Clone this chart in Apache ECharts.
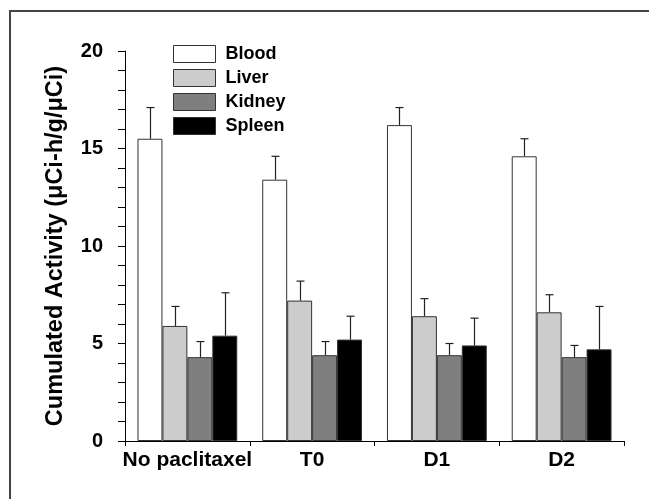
<!DOCTYPE html>
<html>
<head>
<meta charset="utf-8">
<script src="https://cdn.jsdelivr.net/npm/echarts@6/dist/echarts.min.js"></script>
<style>
html,body{margin:0;padding:0;background:#fff;}
#c{width:649px;height:499px;}
</style>
</head>
<body>
<div id="c"></div>
<script>
var categories = ['No paclitaxel', 'T0', 'D1', 'D2'];
var seriesNames = ['Blood', 'Liver', 'Kidney', 'Spleen'];
var blood = [15.5, 13.4, 16.2, 14.6];
var bloodErr = [1.6, 1.2, 0.9, 0.9];
var liver = [5.9, 7.2, 6.4, 6.6];
var liverErr = [1.0, 1.0, 0.9, 0.9];
var kidney = [4.3, 4.4, 4.4, 4.3];
var kidneyErr = [0.8, 0.7, 0.6, 0.6];
var spleen = [5.4, 5.2, 4.9, 4.7];
var spleenErr = [2.2, 1.2, 1.4, 2.2];
var yTicks = [0, 5, 10, 15, 20];

var values = [blood, liver, kidney, spleen];
var errs = [bloodErr, liverErr, kidneyErr, spleenErr];
var colors = ['#ffffff', '#cccccc', '#7f7f7f', '#000000'];
var FONT = '"Liberation Sans", Arial, sans-serif';
var groupFrac = 0.8;

var chart = echarts.init(document.getElementById('c'), null, {renderer: 'canvas'});

var series = [];
seriesNames.forEach(function (name, k) {
  series.push({
    name: name,
    type: 'bar',
    data: values[k],
    barGap: '0%',
    barCategoryGap: '20%',
    itemStyle: {color: colors[k], borderColor: '#333', borderWidth: 1},
    emphasis: {disabled: true},
    z: 2
  });
});
seriesNames.forEach(function (name, k) {
  series.push({
    type: 'custom',
    data: values[k].map(function (v, i) { return [i, v, errs[k][i]]; }),
    z: 5,
    silent: true,
    renderItem: function (params, api) {
      var band = api.size([1, 0])[0];
      var bw = band * groupFrac / seriesNames.length;
      var off = (k - (seriesNames.length - 1) / 2) * bw;
      var base = api.coord([api.value(0), api.value(1)]);
      var top = api.coord([api.value(0), api.value(1) + api.value(2)]);
      var x = Math.round(base[0] + off) + 0.5;
      var cap = 4;
      return {
        type: 'group',
        children: [
          {type: 'line', shape: {x1: x, y1: base[1], x2: x, y2: top[1]}, style: {stroke: '#222', lineWidth: 1.2}},
          {type: 'line', shape: {x1: x - cap, y1: top[1], x2: x + cap, y2: top[1]}, style: {stroke: '#222', lineWidth: 1.2}}
        ]
      };
    }
  });
});

chart.setOption({
  animation: false,
  backgroundColor: '#fff',
  textStyle: {fontFamily: FONT},
  graphic: [{
    type: 'polyline',
    shape: {points: [[10, 700], [10, 11], [900, 11]]},
    style: {fill: 'none', stroke: '#444', lineWidth: 2},
    z: 100,
    silent: true
  }],
  grid: {left: 125, right: 25, top: 51, bottom: 58},
  legend: {
    orient: 'vertical',
    left: 173,
    top: 45,
    padding: 0,
    itemWidth: 42,
    itemHeight: 17,
    itemGap: 6,
    icon: 'rect',
    data: seriesNames,
    selectedMode: false,
    itemStyle: {borderColor: '#333', borderWidth: 1},
    textStyle: {fontFamily: FONT, fontSize: 18, fontWeight: 'bold', color: '#000', lineHeight: 17, padding: [0, 0, 0, 5]}
  },
  xAxis: {
    type: 'category',
    data: categories,
    axisLine: {lineStyle: {color: '#000', width: 1}},
    axisTick: {show: true, length: 5, lineStyle: {color: '#000'}},
    axisLabel: {interval: 0, fontFamily: FONT, fontSize: 21, fontWeight: 'bold', color: '#000', margin: 9}
  },
  yAxis: {
    type: 'value',
    min: yTicks[0],
    max: yTicks[yTicks.length - 1],
    interval: yTicks[1] - yTicks[0],
    name: 'Cumulated Activity (\u03bcCi-h/g/\u03bcCi)',
    nameLocation: 'middle',
    nameGap: 57,
    nameTextStyle: {fontFamily: FONT, fontSize: 23.5, fontWeight: 'bold', color: '#000'},
    axisLine: {show: true, lineStyle: {color: '#000', width: 1}},
    axisTick: {show: true, length: 7, lineStyle: {color: '#000'}},
    minorTick: {show: true, splitNumber: 5, length: 7, lineStyle: {color: '#000'}},
    splitLine: {show: false},
    minorSplitLine: {show: false},
    axisLabel: {fontFamily: FONT, fontSize: 20, fontWeight: 'bold', color: '#000', margin: 22}
  },
  series: series
});
</script>
</body>
</html>
